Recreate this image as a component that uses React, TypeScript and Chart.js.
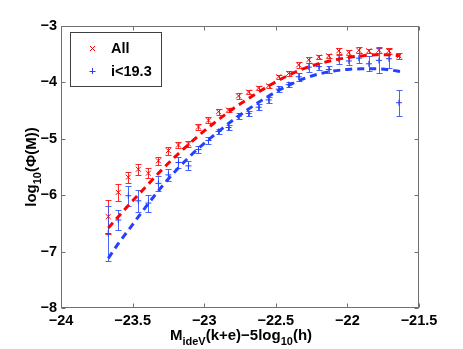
import React, { useEffect, useRef } from 'react';
import { Chart, registerables } from 'chart.js';
Chart.register(...registerables);

// ---- data ----
const binX = [-23.67, -23.6, -23.53, -23.46, -23.39, -23.32, -23.25, -23.18, -23.11, -23.04, -22.97, -22.9, -22.83, -22.76, -22.69, -22.62, -22.55, -22.48, -22.41, -22.34, -22.27, -22.2, -22.13, -22.06, -21.99, -21.92, -21.85, -21.78, -21.71, -21.64];
const allPhi = [-6.38, -5.95, -5.68, -5.54, -5.61, -5.39, -5.21, -5.11, -5.09, -4.79, -4.67, -4.52, -4.49, -4.24, -4.17, -4.1, -4.06, -3.9, -3.84, -3.69, -3.6, -3.55, -3.53, -3.44, -3.47, -3.43, -3.44, -3.43, -3.44, -3.53];
const allErr = [0.3, 0.15, 0.1, 0.1, 0.09, 0.07, 0.07, 0.05, 0.05, 0.05, 0.05, 0.05, 0.04, 0.05, 0.04, 0.04, 0.04, 0.04, 0.04, 0.05, 0.05, 0.04, 0.04, 0.05, 0.05, 0.05, 0.04, 0.05, 0.05, 0.05];
const faintPhi = [-6.68, -6.44, -6.01, -6.1, -6.14, -5.79, -5.64, -5.42, -5.48, -5.19, -5.03, -4.87, -4.8, -4.6, -4.55, -4.44, -4.31, -4.12, -4.04, -3.9, -3.73, -3.72, -3.77, -3.59, -3.62, -3.57, -3.67, -3.61, -3.58, -4.36];
const faintErr = [0.49, 0.18, 0.18, 0.19, 0.15, 0.13, 0.1, 0.1, 0.08, 0.06, 0.06, 0.05, 0.05, 0.05, 0.05, 0.05, 0.05, 0.05, 0.05, 0.07, 0.08, 0.06, 0.06, 0.08, 0.07, 0.09, 0.13, 0.22, 0.17, 0.23];
const fitX = [-23.67, -23.6, -23.5, -23.4, -23.3, -23.2, -23.1, -23.0, -22.9, -22.8, -22.7, -22.6, -22.5, -22.4, -22.3, -22.2, -22.1, -22.0, -21.9, -21.8, -21.7, -21.63];
const allFit = [-6.58, -6.38, -6.1, -5.83, -5.56, -5.31, -5.08, -4.86, -4.66, -4.47, -4.3, -4.14, -3.99, -3.86, -3.75, -3.67, -3.61, -3.56, -3.53, -3.51, -3.51, -3.53];
const faintFit = [-7.12, -6.86, -6.52, -6.18, -5.86, -5.57, -5.31, -5.08, -4.87, -4.67, -4.49, -4.32, -4.17, -4.04, -3.93, -3.85, -3.8, -3.77, -3.76, -3.76, -3.78, -3.81];
const xTicks = [-24, -23.5, -23, -22.5, -22, -21.5];
const yTicks = [-8, -7, -6, -5, -4, -3];
const seriesLabels = ['All', 'i<19.3'];

const FONT = '"Liberation Sans", Arial, Helvetica, sans-serif';
const RED = 'rgb(255,0,0)';
const BLUE = 'rgb(35,65,255)';
const minus = (v: number | string) => String(v).replace('-', '\u2212');

const decor = {
  id: 'matlabDecor',
  beforeDatasetsDraw(chart: any) {
    const { ctx, scales } = chart;
    const x = scales.x, y = scales.y;
    const sets = [
      { vals: allPhi, errs: allErr, color: 'rgba(255,20,20,0.9)' },
      { vals: faintPhi, errs: faintErr, color: 'rgba(50,85,255,0.9)' },
    ];
    ctx.save();
    ctx.lineWidth = 1;
    sets.forEach((s) => {
      ctx.strokeStyle = s.color;
      binX.forEach((bx, i) => {
        const px = Math.round(x.getPixelForValue(bx)) + 0.5;
        const top = Math.round(y.getPixelForValue(s.vals[i] + s.errs[i])) + 0.5;
        const bot = Math.round(y.getPixelForValue(s.vals[i] - s.errs[i])) + 0.5;
        ctx.beginPath();
        ctx.moveTo(px, top); ctx.lineTo(px, bot);
        ctx.moveTo(px - 3, top); ctx.lineTo(px + 3, top);
        ctx.moveTo(px - 3, bot); ctx.lineTo(px + 3, bot);
        ctx.stroke();
      });
    });
    ctx.restore();
  },
  afterDraw(chart: any) {
    const { ctx, chartArea: a, scales } = chart;
    const x = scales.x, y = scales.y;
    ctx.save();
    // frame
    ctx.strokeStyle = '#707070';
    ctx.lineWidth = 1;
    const L = Math.round(a.left) + 0.5, R = Math.round(a.right) - 0.5;
    const T = Math.round(a.top) + 0.5, B = Math.round(a.bottom) - 0.5;
    ctx.strokeRect(L, T, R - L, B - T);
    ctx.beginPath();
    xTicks.forEach((v) => {
      const px = Math.round(x.getPixelForValue(v)) + 0.5;
      ctx.moveTo(px, B); ctx.lineTo(px, B - 4);
      ctx.moveTo(px, T); ctx.lineTo(px, T + 4);
    });
    yTicks.forEach((v) => {
      const py = Math.round(y.getPixelForValue(v)) + 0.5;
      ctx.moveTo(L, py); ctx.lineTo(L + 4, py);
      ctx.moveTo(R, py); ctx.lineTo(R - 4, py);
    });
    ctx.stroke();

    // axis titles with subscripts
    const main = `bold 15px ${FONT}`;
    const sub = `bold 11px ${FONT}`;
    const drawRich = (parts: [string, boolean][], cx: number, base: number) => {
      let w = 0;
      parts.forEach(([t, s]) => { ctx.font = s ? sub : main; w += ctx.measureText(t).width; });
      let cur = cx - w / 2;
      ctx.fillStyle = '#000';
      ctx.textBaseline = 'alphabetic';
      ctx.textAlign = 'left';
      parts.forEach(([t, s]) => {
        ctx.font = s ? sub : main;
        ctx.fillText(t, cur, base + (s ? 5 : 0));
        cur += ctx.measureText(t).width;
      });
    };
    drawRich([['M', false], ['ideV', true], ['(k+e)\u22125log', false], ['10', true], ['(h)', false]], (a.left + a.right) / 2 + 1, 340);
    ctx.save();
    ctx.translate(36, (a.top + a.bottom) / 2);
    ctx.rotate(-Math.PI / 2);
    drawRich([['log', false], ['10', true], ['(\u03A6(M))', false]], 0, 0);
    ctx.restore();

    // legend
    const lx = 70.5, ly = 32.5, lw = 91, lh = 54;
    ctx.fillStyle = '#fff';
    ctx.fillRect(lx, ly, lw, lh);
    ctx.strokeStyle = '#404040';
    ctx.strokeRect(lx, ly, lw, lh);
    ctx.lineWidth = 1;
    ctx.strokeStyle = RED;
    ctx.beginPath();
    ctx.moveTo(90, 46); ctx.lineTo(95, 51);
    ctx.moveTo(95, 46); ctx.lineTo(90, 51);
    ctx.stroke();
    ctx.strokeStyle = BLUE;
    ctx.beginPath();
    ctx.moveTo(92.5, 68); ctx.lineTo(92.5, 74);
    ctx.moveTo(89.5, 71.5); ctx.lineTo(95.5, 71.5);
    ctx.stroke();
    ctx.fillStyle = '#000';
    ctx.font = `bold 14.5px ${FONT}`;
    ctx.textBaseline = 'middle';
    ctx.textAlign = 'left';
    ctx.fillText(chart.data.datasets[0].label, 111, 49);
    ctx.fillText(chart.data.datasets[1].label, 111, 72);
    ctx.restore();
  },
};

export default function App() {
  const ref = useRef<HTMLCanvasElement | null>(null);
  useEffect(() => {
    if (!ref.current) return;
    const tickFont = { family: FONT, size: 14.5, weight: 'bold' as const };
    const chart = new Chart(ref.current, {
      type: 'scatter',
      data: {
        datasets: [
          {
            label: seriesLabels[0],
            data: binX.map((v, i) => ({ x: v, y: allPhi[i] })),
            pointStyle: 'crossRot',
            pointRadius: 3.5,
            borderColor: RED,
            backgroundColor: RED,
            borderWidth: 1,
            order: 2,
          },
          {
            label: seriesLabels[1],
            data: binX.map((v, i) => ({ x: v, y: faintPhi[i] })),
            pointStyle: 'cross',
            pointRadius: 3,
            borderColor: BLUE,
            backgroundColor: BLUE,
            borderWidth: 1,
            order: 3,
          },
          {
            type: 'line',
            label: 'All fit',
            data: fitX.map((v, i) => ({ x: v, y: allFit[i] })),
            borderColor: RED,
            borderWidth: 3,
            borderDash: [7, 5],
            pointRadius: 0,
            fill: false,
            tension: 0.4,
            cubicInterpolationMode: 'monotone',
            order: 1,
          } as any,
          {
            type: 'line',
            label: 'faint fit',
            data: fitX.map((v, i) => ({ x: v, y: faintFit[i] })),
            borderColor: BLUE,
            borderWidth: 3,
            borderDash: [7, 5],
            pointRadius: 0,
            fill: false,
            tension: 0.4,
            cubicInterpolationMode: 'monotone',
            order: 1,
          } as any,
        ],
      },
      options: {
        animation: false,
        responsive: false,
        devicePixelRatio: 1,
        layout: { padding: { top: 26, right: 44, left: 0, bottom: 0 } },
        plugins: { legend: { display: false }, tooltip: { enabled: false }, title: { display: false } },
        scales: {
          x: {
            type: 'linear',
            min: -24,
            max: -21.5,
            afterBuildTicks: (s: any) => { s.ticks = xTicks.map((v) => ({ value: v })); },
            afterFit: (s: any) => { s.height = 41; },
            ticks: { callback: (v: any) => minus(v), font: tickFont, color: '#000', padding: 4, maxRotation: 0, autoSkip: false },
            grid: { display: false, drawTicks: false, tickLength: 0 },
            border: { display: false },
          },
          y: {
            type: 'linear',
            min: -8,
            max: -3,
            afterBuildTicks: (s: any) => { s.ticks = yTicks.map((v) => ({ value: v })); },
            afterFit: (s: any) => { s.width = 61; },
            ticks: { callback: (v: any) => minus(v), font: tickFont, color: '#000', padding: 4, autoSkip: false },
            grid: { display: false, drawTicks: false, tickLength: 0 },
            border: { display: false },
          },
        },
      },
      plugins: [decor],
    });
    return () => chart.destroy();
  }, []);
  return (
    <div style={{ position: 'absolute', left: 0, top: 0, width: 463, height: 349 }}>
      <canvas ref={ref} width={463} height={349} style={{ display: 'block' }} />
    </div>
  );
}
